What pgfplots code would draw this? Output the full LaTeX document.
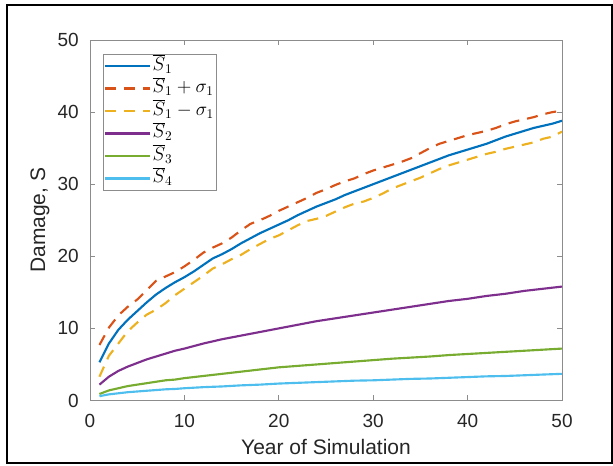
\documentclass[border=0pt]{standalone}
\usepackage{fontspec}
\setmainfont{Liberation Sans}
\usepackage{pgfplots}
\usepackage{pgfplotstable}
\pgfplotsset{compat=1.18}
\usetikzlibrary{calc}

\newlength\px
\setlength\px{0.75pt}

\definecolor{mblue}{rgb}{0,0.447,0.741}
\definecolor{morange}{rgb}{0.85,0.325,0.098}
\definecolor{myellow}{rgb}{0.929,0.694,0.125}
\definecolor{mpurple}{rgb}{0.494,0.184,0.556}
\definecolor{mgreen}{rgb}{0.466,0.674,0.188}
\definecolor{mcyan}{rgb}{0.301,0.745,0.933}

% S1 mean and +/- one sigma
\pgfplotstableread{
yr s1 s1p s1m
1 5.3 7.7 3.3
2 7.9 10.1 6.2
3 9.8 11.8 7.9
4 11.2 13.0 9.6
5 12.4 14.0 10.8
6 13.6 15.3 11.9
7 14.7 16.6 12.6
8 15.6 17.2 13.5
9 16.4 17.8 14.6
10 17.1 18.6 15.5
11 17.9 19.5 16.4
12 18.8 20.5 17.3
13 19.7 21.2 18.3
14 20.3 21.8 18.9
15 21.0 22.6 19.6
16 21.8 23.6 20.2
17 22.5 24.5 21.0
18 23.2 25.0 21.7
19 23.8 25.6 22.4
20 24.4 26.3 22.9
21 25.0 26.9 23.6
22 25.7 27.5 24.3
23 26.3 28.1 24.9
24 26.9 28.8 25.2
25 27.4 29.3 25.6
26 27.9 29.9 26.2
27 28.5 30.4 26.8
28 29.0 30.8 27.3
29 29.5 31.4 27.6
30 30.0 31.9 28.1
31 30.5 32.3 28.7
32 31.0 32.7 29.4
33 31.5 33.1 29.9
34 32.0 33.6 30.4
35 32.5 34.3 30.9
36 33.0 35.0 31.5
37 33.5 35.6 32.1
38 34.0 36.0 32.6
39 34.4 36.4 33.0
40 34.8 36.8 33.4
41 35.2 37.1 33.8
42 35.6 37.4 34.2
43 36.1 37.8 34.5
44 36.6 38.3 34.9
45 37.0 38.7 35.2
46 37.4 39.0 35.5
47 37.8 39.3 35.8
48 38.1 39.7 36.3
49 38.4 40.0 36.6
50 38.8 40.2 37.3
}\sone

% S2, S3, S4 means
\pgfplotstableread{
yr s2 s3 s4
1 2.2 0.9 0.6
2 3.3 1.4 0.85
3 4.1 1.7 1.0
4 4.7 2.0 1.15
5 5.2 2.2 1.25
6 5.7 2.4 1.35
7 6.1 2.6 1.45
8 6.5 2.8 1.55
9 6.9 2.9 1.6
10 7.2 3.1 1.7
12 7.9 3.4 1.85
14 8.5 3.7 1.95
16 9.0 4.0 2.1
18 9.5 4.3 2.2
20 10.0 4.6 2.35
22 10.5 4.8 2.45
24 11.0 5.0 2.55
26 11.4 5.2 2.65
28 11.8 5.4 2.75
30 12.2 5.6 2.8
32 12.6 5.8 2.9
34 13.0 5.95 3.0
36 13.4 6.1 3.05
38 13.8 6.3 3.15
40 14.1 6.45 3.25
42 14.5 6.6 3.35
44 14.8 6.75 3.4
46 15.2 6.9 3.5
48 15.5 7.05 3.6
50 15.8 7.2 3.7
}\sother

\begin{document}
\begin{tikzpicture}
\begin{axis}[
    name=ax,
    scale only axis,
    width=472\px, height=360.5\px,
    xmin=0, xmax=50, ymin=0, ymax=50,
    xtick={0,10,...,50}, ytick={0,10,...,50},
    tick align=inside,
    major tick length=5\px,
    axis line style={black!45, line width=0.6pt},
    tick style={black!45, line width=0.6pt},
    /pgf/number format/assume math mode=true,
    tick label style={font=\fontsize{14.25}{16}\selectfont, text=black!85},
    yticklabel style={anchor=east, inner sep=0pt, xshift=-11\px},
    xticklabel style={anchor=north, inner sep=0pt, yshift=-13\px},
    xlabel={Year of Simulation},
    ylabel={Damage, S},
    every axis x label/.style={at={(axis description cs:0.5,-0.13)}, anchor=center,
        font=\fontsize{15.75}{18}\selectfont, text=black!85},
    every axis y label/.style={at={(axis description cs:-0.106,0.5)}, rotate=90, anchor=center,
        font=\fontsize{15.75}{18}\selectfont, text=black!85},
    no markers,
    legend image code/.code={\draw[#1] (0,0) -- (43\px,0); \path (0,0) -- (45\px,0);},
    legend cell align=left,
    legend style={
        at={(0.0275,0.961)}, anchor=north west,
        draw=black!45, line width=0.6pt,
        inner sep=1\px, row sep=1.5\px,
        font=\fontsize{14.4}{17}\selectfont,
        nodes={inner sep=1\px, text height=14\px, text depth=5\px},
    },
]
\addplot[mblue, line width=1.6pt] table[x=yr, y=s1] {\sone};
\addlegendentry{$\overline{S}_1$}
\addplot[morange, line width=1.6pt, dash pattern=on 11\px off 8\px] table[x=yr, y=s1p] {\sone};
\addlegendentry{$\overline{S}_1+\sigma_1$}
\addplot[myellow, line width=1.6pt, dash pattern=on 11\px off 8\px] table[x=yr, y=s1m] {\sone};
\addlegendentry{$\overline{S}_1-\sigma_1$}
\addplot[mpurple, line width=1.6pt] table[x=yr, y=s2] {\sother};
\addlegendentry{$\overline{S}_2$}
\addplot[mgreen, line width=1.6pt] table[x=yr, y=s3] {\sother};
\addlegendentry{$\overline{S}_3$}
\addplot[mcyan, line width=1.6pt] table[x=yr, y=s4] {\sother};
\addlegendentry{$\overline{S}_4$}
\end{axis}
% outer frame of the figure
\draw[line width=2\px] ($(ax.south west)+(-83\px,-62.5\px)$) rectangle ($(ax.south west)+(522\px,395.5\px)$);
\path ($(ax.south west)+(-90\px,-65.5\px)$) rectangle ($(ax.south west)+(523\px,400.5\px)$);
\end{tikzpicture}
\end{document}
